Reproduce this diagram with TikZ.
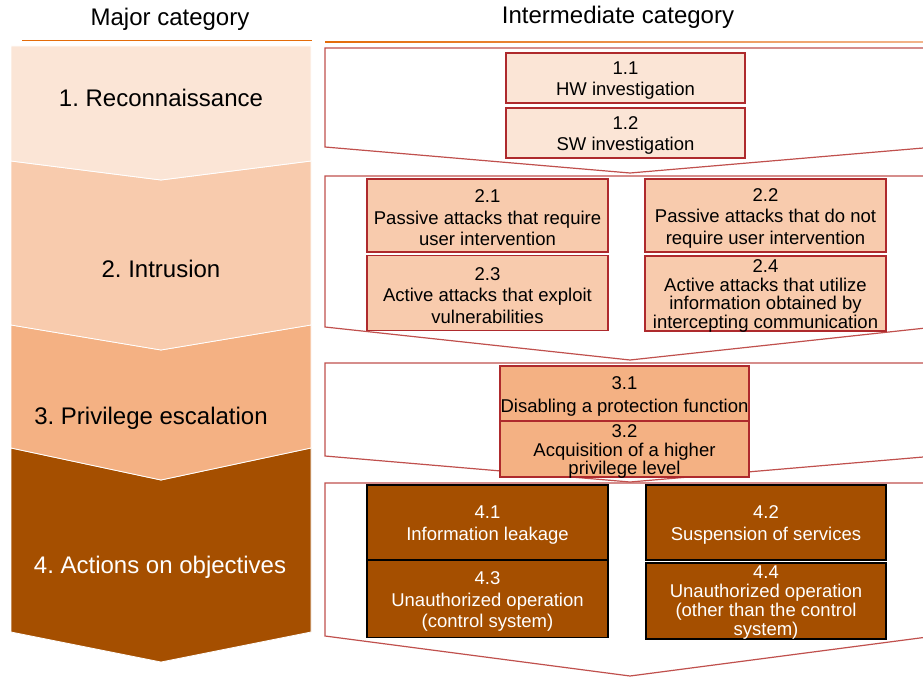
\documentclass[tikz,border=0pt]{standalone}
\usepackage{fontspec}
\setmainfont{Liberation Sans}
\frenchspacing
\definecolor{peachA}{HTML}{FBE5D6}
\definecolor{peachB}{HTML}{F8CBAD}
\definecolor{peachC}{HTML}{F4B183}
\definecolor{rust}{HTML}{A54F00}
\definecolor{boxred}{HTML}{AE2A2D}
\definecolor{framered}{HTML}{C0504D}
\definecolor{ruleorange}{HTML}{E46C0A}
\definecolor{rulepeach}{HTML}{F2B48A}

\begin{document}
\begin{tikzpicture}[x=1pt,y=-1pt,
  hdr/.style={anchor=base,font=\fontsize{24}{28}\selectfont},
  major/.style={anchor=base,font=\fontsize{24}{28}\selectfont},
  band/.style={draw=white,line width=0.8pt},
  frame/.style={draw=framered,line width=1.2pt,fill=white},
  item/.style={draw=boxred,line width=1.8pt,inner sep=0pt},
  itemA/.style={item,fill=peachA},
  itemB/.style={item,fill=peachB},
  itemC/.style={item,fill=peachC},
  itemD/.style={item,fill=rust,draw=black},
  itext/.style={inner sep=0pt,align=center,font=\fontsize{18.5}{21.5}\selectfont},
  tight/.style={font=\fontsize{18.5}{18.8}\selectfont},
]
\useasboundingbox (0,0) rectangle (923,677);

% column headings and their rules
\node[hdr] (hmajor) at (170,26) {Major category};
\node[hdr] (hinter) at (618,24) {Intermediate category};
\fill[ruleorange] (22,39.6) rectangle (312,40.8);
\shade[left color=ruleorange,right color=rulepeach] (325,41.5) rectangle (923,42.5);

% major-category chevrons, lowest first so each point overlaps the next band
\fill[rust,band] (11,448) -- (161,480) -- (311,448) -- (311,632) -- (161,662) -- (11,632) -- cycle;
\fill[peachC,band] (11,325) -- (161,350) -- (311,325) -- (311,448) -- (161,480) -- (11,448) -- cycle;
\fill[peachB,band] (11,161) -- (161,180) -- (311,161) -- (311,325) -- (161,350) -- (11,325) -- cycle;
\fill[peachA,band] (11,46) -- (311,46) -- (311,161) -- (161,180) -- (11,161) -- cycle;

\node[major] (m1) at (161,106) {1. Reconnaissance};
\node[major] (m2) at (161,277) {2. Intrusion};
\node[major] (m3) at (151,424) {3. Privilege escalation};
\node[major,text=white] (m4) at (160,573) {4. Actions on objectives};

% outlined chevrons holding the intermediate categories
\begin{scope}
\clip (0,0) rectangle (923,677);
\filldraw[frame] (325,48) -- (935,48) -- (935,147) -- (630,173) -- (325,147) -- cycle;
\filldraw[frame] (325,176) -- (935,176) -- (935,327) -- (630,360) -- (325,327) -- cycle;
\filldraw[frame] (325,363) -- (935,363) -- (935,456) -- (630,482) -- (325,456) -- cycle;
\filldraw[frame] (325,483) -- (935,483) -- (935,636) -- (630,676) -- (325,636) -- cycle;
\end{scope}

% 1. Reconnaissance
\node[itemA,minimum width=239pt,minimum height=50pt] (i11) at (625.5,78) {};
\node[itemA,minimum width=239pt,minimum height=50pt] (i12) at (625.5,133) {};
\node[itext] (t11) at ([yshift=-2.5pt]i11.center) {1.1\\HW investigation};
\node[itext] (t12) at ([yshift=-2.5pt]i12.center) {1.2\\SW investigation};

% 2. Intrusion
\node[itemB,minimum width=241pt,minimum height=73pt] (i21) at (487.5,215.5) {};
\node[itemB,minimum width=241pt,minimum height=73pt] (i22) at (765.5,215.5) {};
\node[itemB,minimum width=241pt,minimum height=75pt] (i23) at (487.5,293) {};
\node[itemB,minimum width=241pt,minimum height=75pt] (i24) at (765.5,293.5) {};
\node[itext] (t21) at ([yshift=-2.5pt]i21.center) {2.1\\Passive attacks that require\\user intervention};
\node[itext] (t22) at ([yshift=-2.5pt]i22.center) {2.2\\Passive attacks that do not\\require user intervention};
\node[itext] (t23) at ([yshift=-2.5pt]i23.center) {2.3\\Active attacks that exploit\\vulnerabilities};
\node[itext,tight] (t24) at ([yshift=-2.5pt]i24.center) {2.4\\Active attacks that utilize\\information obtained by\\intercepting communication};

% 3. Privilege escalation
\node[itemC,minimum width=249pt,minimum height=55pt] (i31) at (624.5,393.5) {};
\node[itemC,minimum width=249pt,minimum height=56pt] (i32) at (624.5,449) {};
\node[itext,font=\fontsize{18.5}{23}\selectfont] (t31) at ([yshift=-2.5pt]i31.center) {3.1\\Disabling a protection function};
\node[itext,tight] (t32) at ([yshift=-2.5pt]i32.center) {3.2\\Acquisition of a higher\\privilege level};

% 4. Actions on objectives
\node[itemD,minimum width=241pt,minimum height=75pt] (i41) at (487.5,522.5) {};
\node[itemD,minimum width=240pt,minimum height=75pt] (i42) at (766,522.5) {};
\node[itemD,minimum width=241pt,minimum height=77pt] (i43) at (487.5,599) {};
\node[itemD,minimum width=240pt,minimum height=76pt] (i44) at (766,601) {};
\node[itext,text=white] (t41) at ([yshift=-2.5pt]i41.center) {4.1\\Information leakage};
\node[itext,text=white] (t42) at ([yshift=-2.5pt]i42.center) {4.2\\Suspension of services};
\node[itext,text=white] (t43) at ([yshift=-2.5pt]i43.center) {4.3\\Unauthorized operation\\(control system)};
\node[itext,tight,text=white] (t44) at ([yshift=-1.5pt]i44.center) {4.4\\Unauthorized operation\\(other than the control\\system)};
\end{tikzpicture}
\end{document}
